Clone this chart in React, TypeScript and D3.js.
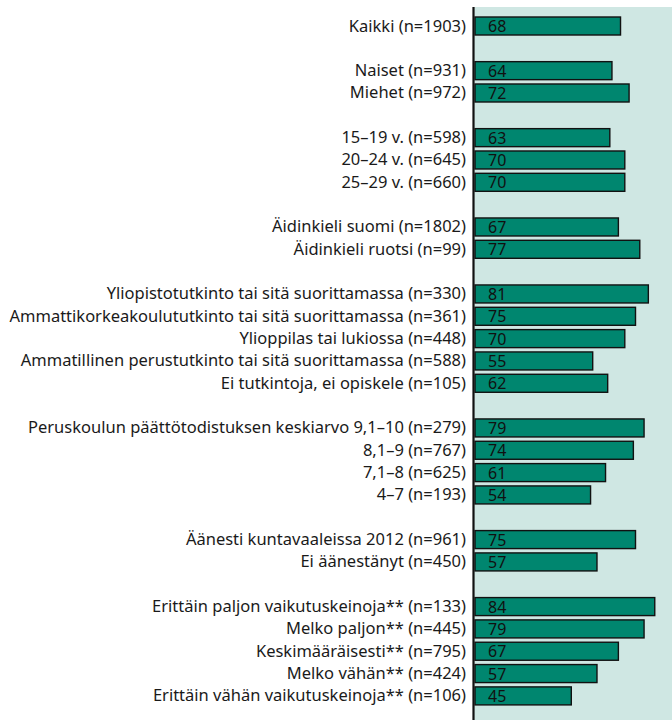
import React from "react";
import * as d3 from "d3";

const labels: (string | null)[] = [
  "Kaikki (n=1903)",
  null,
  "Naiset (n=931)",
  "Miehet (n=972)",
  null,
  "15–19 v. (n=598)",
  "20–24 v. (n=645)",
  "25–29 v. (n=660)",
  null,
  "Äidinkieli suomi (n=1802)",
  "Äidinkieli ruotsi (n=99)",
  null,
  "Yliopistotutkinto tai sitä suorittamassa (n=330)",
  "Ammattikorkeakoulututkinto tai sitä suorittamassa (n=361)",
  "Ylioppilas tai lukiossa (n=448)",
  "Ammatillinen perustutkinto tai sitä suorittamassa (n=588)",
  "Ei tutkintoja, ei opiskele (n=105)",
  null,
  "Peruskoulun päättötodistuksen keskiarvo 9,1–10 (n=279)",
  "8,1–9 (n=767)",
  "7,1–8 (n=625)",
  "4–7 (n=193)",
  null,
  "Äänesti kuntavaaleissa 2012 (n=961)",
  "Ei äänestänyt (n=450)",
  null,
  "Erittäin paljon vaikutuskeinoja** (n=133)",
  "Melko paljon** (n=445)",
  "Keskimääräisesti** (n=795)",
  "Melko vähän** (n=424)",
  "Erittäin vähän vaikutuskeinoja** (n=106)",
];

const values: (number | null)[] = [
  68, null, 64, 72, null, 63, 70, 70, null, 67, 77, null,
  81, 75, 70, 55, 62, null, 79, 74, 61, 54, null, 75, 57, null,
  84, 79, 67, 57, 45,
];

const W = 672;
const H = 720;

export default function App() {
  const idx = d3.range(labels.length);
  const y = d3
    .scaleBand<number>()
    .domain(idx)
    .range([26 - 22.33 / 2, 26 - 22.33 / 2 + 22.33 * labels.length]);
  const x = d3.scaleLinear().domain([0, 100]).range([475, 689]);
  const barH = 18;
  const font = "'Noto Sans', sans-serif";

  return (
    <svg
      width={W}
      height={H}
      style={{ position: "absolute", left: 0, top: 0, background: "#fff" }}
    >
      <rect x={474} y={7} width={W - 474} height={H - 7} fill="#cfe7e3" />
      {idx.map((i) => {
        const v = values[i];
        const lab = labels[i];
        if (v == null || lab == null) return null;
        const cy = (y(i) as number) + y.bandwidth() / 2;
        return (
          <g key={i}>
            <text
              x={466}
              y={cy + 5.5}
              textAnchor="end"
              fontFamily={font}
              fontSize={16.5}
              fill="#1a1a1a"
            >
              {lab}
            </text>
            <rect
              x={x(0)}
              y={cy - barH / 2}
              width={x(v) - x(0)}
              height={barH}
              fill="#00866f"
              stroke="#111"
              strokeWidth={1.4}
            />
            <text
              x={488}
              y={cy + 6}
              fontFamily={font}
              fontSize={16}
              fill="#111"
            >
              {v}
            </text>
          </g>
        );
      })}
      <line x1={473.5} x2={473.5} y1={7} y2={H} stroke="#111" strokeWidth={2.2} />
    </svg>
  );
}
